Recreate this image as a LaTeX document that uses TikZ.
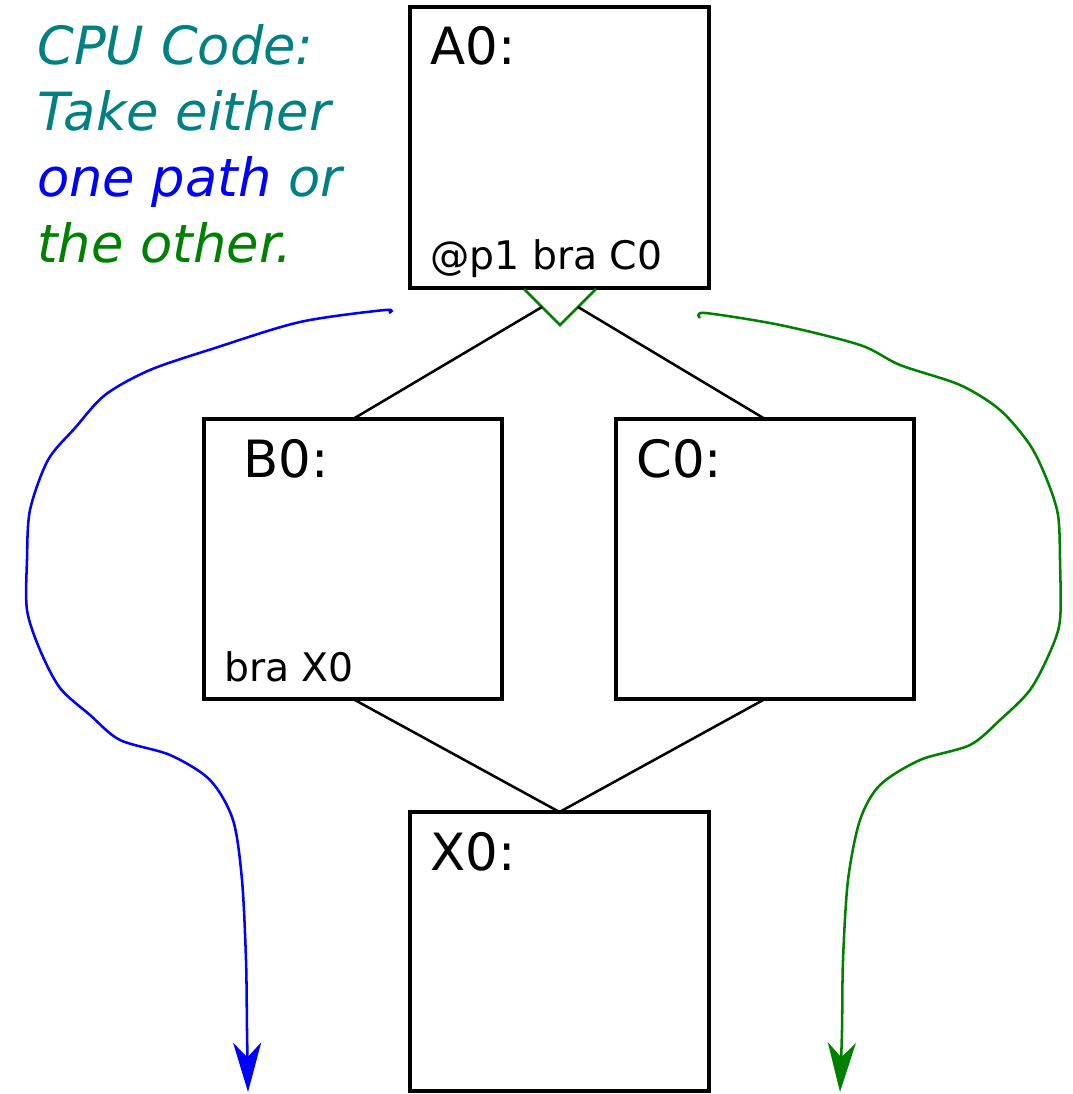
\documentclass[tikz,border=0pt]{standalone}
\usepackage{fontspec}
\setmainfont{DejaVu Sans}
\usetikzlibrary{arrows.meta,calc}
\definecolor{tealc}{RGB}{0,128,128}
\definecolor{bluec}{RGB}{0,0,255}
\definecolor{greenc}{RGB}{0,128,0}
\tikzset{
  blk/.style={draw=black, line width=3.6pt, inner sep=0pt, outer sep=0pt, fill=none},
  lbl/.style={anchor=base west, inner sep=0pt, font=\fontsize{38.5pt}{46pt}\selectfont},
  small/.style={anchor=base west, inner sep=0pt, font=\fontsize{29.5pt}{35pt}\selectfont},
  note/.style={anchor=base west, inner sep=0pt, font=\fontsize{39.5pt}{46pt}\selectfont\itshape},
  conn/.style={draw=black, line width=1.9pt},
  pathline/.style={line width=1.9pt, -{Stealth[length=37pt,width=21pt,inset=11pt]}}
}
\begin{document}
\begin{tikzpicture}[x=0.75pt,y=-0.75pt]
\useasboundingbox (0,0) rectangle (1072,1094);
% boxes
\node[blk, minimum width=224.25pt, minimum height=210.75pt] (A) at (559.5,147.5) {};
\node[blk, minimum width=223.5pt, minimum height=210pt] (B) at (353,559) {};
\node[blk, minimum width=223.5pt, minimum height=210pt] (C) at (765,559) {};
\node[blk, minimum width=224.25pt, minimum height=209.25pt] (X) at (559.5,951.5) {};
% labels
\node[lbl] (tA) at (430,65) {A0:};
\node[small] (tA2) at (430,270) {@p1 bra C0};
\node[lbl] (tB) at (243,477) {B0:};
\node[small] (tB2) at (224,681) {bra X0};
\node[lbl] (tC) at (636,477) {C0:};
\node[lbl] (tX) at (430,870) {X0:};
% note
\node[note, text=tealc] (n1) at (37,65) {CPU Code:};
\node[note, text=tealc] (n2) at (37,131) {Take either};
\node[note] (n3) at (37,197) {\textcolor{bluec}{one path} \textcolor{tealc}{or}};
\node[note, text=greenc] (n4) at (37,263) {the other.};
% green V
\coordinate (vl) at (524,289);
\coordinate (vp) at (560,325);
\coordinate (vr) at (596,289);
\draw[greenc, line width=1.9pt] (vl) -- (vp) -- (vr);
\coordinate (vlm) at ($(vl)!0.5!(vp)$);
\coordinate (vrm) at ($(vr)!0.5!(vp)$);
\draw[conn] (vlm) -- (B.north);
\draw[conn] (vrm) -- (C.north);
\draw[conn] (B.south) -- (X.north);
\draw[conn] (C.south) -- (X.north);
% blue path
\draw[bluec, pathline] plot[smooth, tension=0.5] coordinates {
  (389,313) (385,310) (300,322) (215,348) (150,370) (105,395) (75,428)
  (48,460) (30,510) (27,560) (27,610) (40,650) (60,688) (90,715) (120,740)
  (170,755) (210,780) (233,820) (242,880) (246,960) (247,1030) (248,1092)};
% green path
\draw[greenc, pathline] plot[smooth, tension=0.5] coordinates {
  (700,318) (705,313) (780,325) (860,345) (900,365) (960,385) (1000,410)
  (1030,445) (1047,480) (1058,515) (1060,560) (1060,620) (1050,652) (1030,690)
  (1000,720) (970,745) (920,760) (880,785) (860,820) (848,880) (843,960)
  (842,1030) (840,1092)};
\end{tikzpicture}
\end{document}
